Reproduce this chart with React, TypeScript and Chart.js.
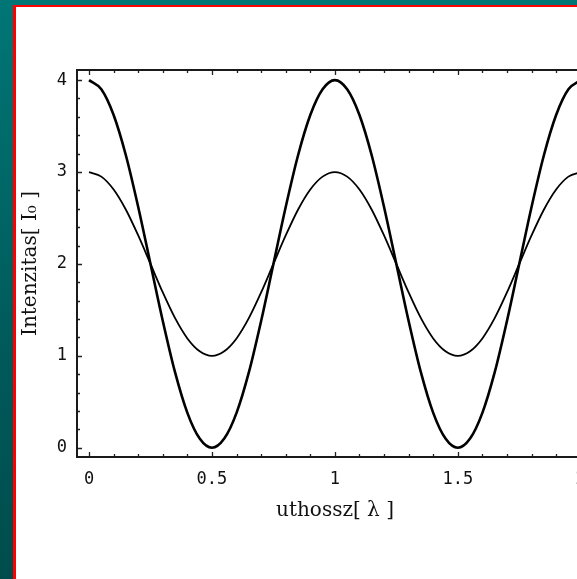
import React, { useEffect, useRef } from "react";
import { Chart, registerables } from "chart.js";

Chart.register(...registerables);

const pathLength = [
  0, 0.05, 0.1, 0.15, 0.2, 0.25, 0.3, 0.35, 0.4, 0.45, 0.5, 0.55, 0.6, 0.65, 0.7, 0.75, 0.8, 0.85, 0.9, 0.95,
  1, 1.05, 1.1, 1.15, 1.2, 1.25, 1.3, 1.35, 1.4, 1.45, 1.5, 1.55, 1.6, 1.65, 1.7, 1.75, 1.8, 1.85, 1.9, 1.95, 2,
];
const intensityStrong = [
  4, 3.9, 3.62, 3.18, 2.62, 2.0, 1.38, 0.82, 0.38, 0.1, 0, 0.1, 0.38, 0.82, 1.38, 2.0, 2.62, 3.18, 3.62, 3.9,
  4, 3.9, 3.62, 3.18, 2.62, 2.0, 1.38, 0.82, 0.38, 0.1, 0, 0.1, 0.38, 0.82, 1.38, 2.0, 2.62, 3.18, 3.62, 3.9, 4,
];
const intensityWeak = [
  3, 2.95, 2.81, 2.59, 2.31, 2.0, 1.69, 1.41, 1.19, 1.05, 1, 1.05, 1.19, 1.41, 1.69, 2.0, 2.31, 2.59, 2.81, 2.95,
  3, 2.95, 2.81, 2.59, 2.31, 2.0, 1.69, 1.41, 1.19, 1.05, 1, 1.05, 1.19, 1.41, 1.69, 2.0, 2.31, 2.59, 2.81, 2.95, 3,
];
const xMajorTicks = [0, 0.5, 1, 1.5, 2];
const xTickLabels = ["0", "0.5", "1", "1.5", "2"];
const yMajorTicks = [0, 1, 2, 3, 4];
const yTickLabels = ["0", "1", "2", "3", "4"];
const xMinorTicks = [0.1, 0.2, 0.3, 0.4, 0.6, 0.7, 0.8, 0.9, 1.1, 1.2, 1.3, 1.4, 1.6, 1.7, 1.8, 1.9];
const yMinorTicks = [0.2, 0.4, 0.6, 0.8, 1.2, 1.4, 1.6, 1.8, 2.2, 2.4, 2.6, 2.8, 3.2, 3.4, 3.6, 3.8];

const CANVAS_W = 620;
const CANVAS_H = 579;

const frameTicksPlugin = {
  id: "frameTicks",
  afterDatasetsDraw(chart: any) {
    const { ctx, chartArea, scales } = chart;
    const { left, right, top, bottom } = chartArea;
    ctx.save();
    ctx.strokeStyle = "#222";
    ctx.lineWidth = 1.3;
    const xs = scales.x;
    const ys = scales.y;
    const drawX = (vals: number[], len: number) => {
      vals.forEach((v) => {
        const px = Math.round(xs.getPixelForValue(v)) + 0.5;
        ctx.beginPath();
        ctx.moveTo(px, bottom);
        ctx.lineTo(px, bottom - len);
        ctx.moveTo(px, top);
        ctx.lineTo(px, top + len);
        ctx.stroke();
      });
    };
    const drawY = (vals: number[], len: number) => {
      vals.forEach((v) => {
        const py = Math.round(ys.getPixelForValue(v)) + 0.5;
        ctx.beginPath();
        ctx.moveTo(left, py);
        ctx.lineTo(left + len, py);
        ctx.moveTo(right, py);
        ctx.lineTo(right - len, py);
        ctx.stroke();
      });
    };
    drawX(xMajorTicks, 5);
    drawX(xMinorTicks, 3);
    drawY(yMajorTicks, 5);
    drawY(yMinorTicks, 3);
    ctx.lineWidth = 2;
    ctx.strokeStyle = "#1a1a1a";
    ctx.strokeRect(left, top, right - left, bottom - top);
    ctx.restore();
  },
};

export default function App() {
  const canvasRef = useRef<HTMLCanvasElement | null>(null);

  useEffect(() => {
    const canvas = canvasRef.current;
    if (!canvas) return;
    const chart = new Chart(canvas, {
      type: "line",
      data: {
        datasets: [
          {
            label: "strong",
            data: pathLength.map((x, i) => ({ x, y: intensityStrong[i] })),
            borderColor: "#000",
            borderWidth: 2.6,
            pointRadius: 0,
            cubicInterpolationMode: "monotone",
            fill: false,
          },
          {
            label: "weak",
            data: pathLength.map((x, i) => ({ x, y: intensityWeak[i] })),
            borderColor: "#000",
            borderWidth: 1.8,
            pointRadius: 0,
            cubicInterpolationMode: "monotone",
            fill: false,
          },
        ],
      },
      options: {
        animation: false,
        responsive: false,
        devicePixelRatio: 1,
        layout: { padding: { top: 70, right: CANVAS_W - 593, left: 0, bottom: 0 } },
        plugins: { legend: { display: false }, tooltip: { enabled: false } },
        scales: {
          x: {
            type: "linear",
            min: -0.049,
            max: 2.05,
            afterFit: (s: any) => {
              s.height = 122;
            },
            afterBuildTicks: (s: any) => {
              s.ticks = xMajorTicks.map((v) => ({ value: v }));
            },
            grid: { display: false, drawTicks: false },
            border: { display: false },
            ticks: {
              padding: 12,
              color: "#111",
              font: { family: "'DejaVu Sans Mono', monospace", size: 17 },
              callback: (v: any) => xTickLabels[xMajorTicks.indexOf(Number(v))] ?? "",
              maxRotation: 0,
              autoSkip: false,
            },
            title: {
              display: true,
              text: "uthossz[ λ ]",
              color: "#111",
              font: { family: "'DejaVu Serif', serif", size: 20 },
              padding: { top: 0, bottom: 56 },
            },
          },
          y: {
            type: "linear",
            min: -0.1,
            max: 4.11,
            afterFit: (s: any) => {
              s.width = 77;
            },
            afterBuildTicks: (s: any) => {
              s.ticks = yMajorTicks.map((v) => ({ value: v }));
            },
            grid: { display: false, drawTicks: false },
            border: { display: false },
            ticks: {
              padding: 10,
              color: "#111",
              font: { family: "'DejaVu Sans Mono', monospace", size: 17 },
              callback: (v: any) => yTickLabels[yMajorTicks.indexOf(Number(v))] ?? "",
              autoSkip: false,
            },
            title: {
              display: true,
              text: "Intenzitas[ I₀ ]",
              color: "#111",
              font: { family: "'DejaVu Serif', serif", size: 20 },
              padding: { top: 19, bottom: 0 },
            },
          },
        },
      },
      plugins: [frameTicksPlugin],
    } as any);
    return () => chart.destroy();
  }, []);

  return (
    <div
      style={{
        position: "fixed",
        left: 0,
        top: 0,
        width: 577,
        height: 579,
        overflow: "hidden",
        background: "linear-gradient(180deg, #007676 0%, #005a5a 60%, #004c4c 100%)",
      }}
    >
      <div
        style={{
          position: "absolute",
          left: 13,
          top: 5,
          right: 0,
          bottom: 0,
          background: "#fff",
          borderLeft: "3px solid #ff0000",
          borderTop: "2px solid #ff0000",
        }}
      />
      <canvas
        ref={canvasRef}
        width={CANVAS_W}
        height={CANVAS_H}
        style={{ position: "absolute", left: 0, top: 0, width: CANVAS_W, height: CANVAS_H }}
      />
    </div>
  );
}
